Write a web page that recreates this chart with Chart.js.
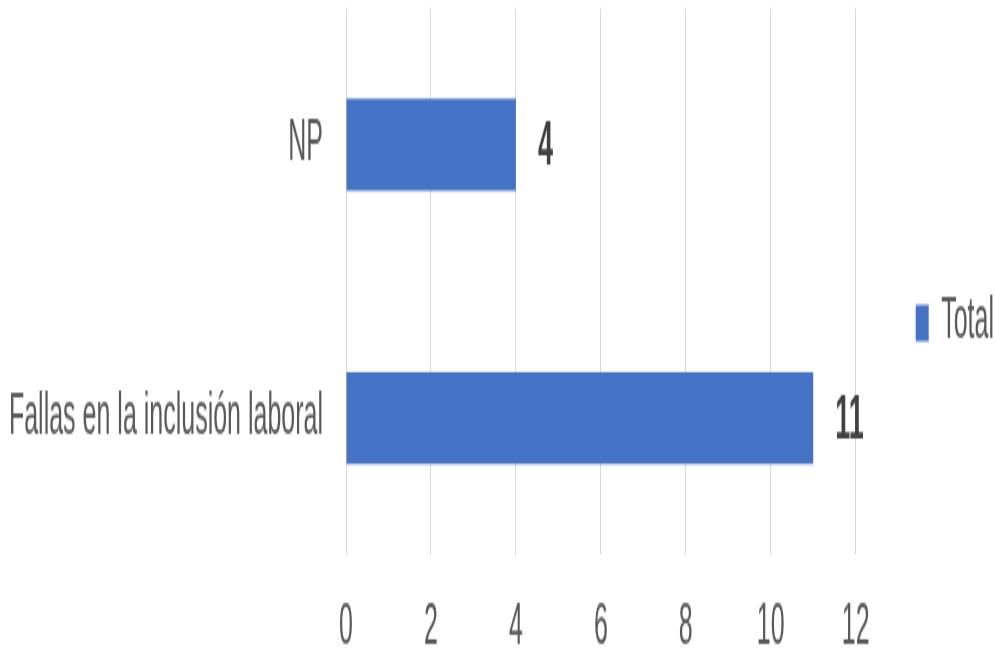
<!DOCTYPE html>
<html lang="es">
<head>
<meta charset="utf-8">
<title>Total por motivo</title>
<script src="https://cdn.jsdelivr.net/npm/chart.js@4.4.1/dist/chart.umd.min.js"></script>
<style>
    html, body { margin: 0; padding: 0; background: #ffffff; overflow: hidden; }
</style>
</head>
<body>
<!-- el lienzo se dibuja a 286px de alto y se estira a 653px, como la imagen original -->
<canvas id="chartMotivos" width="995" height="286" style="display:block;width:995px;height:653px;"></canvas>
<script>
// ===== Datos =====
const categorias = ['NP', 'Fallas en la inclusión laboral'];
const totales = [4, 11];
const serieNombre = 'Total';
const marcasX = [0, 2, 4, 6, 8, 10, 12];

const FUENTE = '"Liberation Sans", Arial, sans-serif';
const GRIS_TEXTO = '#595959';

// Etiquetas de valor al final de cada barra
const etiquetasValor = {
    id: 'etiquetasValor',
    afterDatasetsDraw(chart) {
        const ctx = chart.ctx;
        ctx.save();
        ctx.font = `bold 27px ${FUENTE}`;
        ctx.fillStyle = '#404040';
        ctx.textAlign = 'left';
        ctx.textBaseline = 'middle';
        chart.getDatasetMeta(0).data.forEach((bar, i) => {
            ctx.fillText(String(totales[i]), bar.x + 22, bar.y + 1.5);
        });
        ctx.restore();
    }
};

const ctx = document.getElementById('chartMotivos').getContext('2d');

new Chart(ctx, {
    type: 'bar',
    data: {
        labels: categorias,
        datasets: [{
            label: serieNombre,
            data: totales,
            backgroundColor: '#4472C4',
            borderWidth: 0,
            categoryPercentage: 1,
            barPercentage: 0.336
        }]
    },
    options: {
        indexAxis: 'y',
        responsive: false,
        animation: false,
        // top negativo: sube el centro de la leyenda; el eje y deja el area en 3.5
        layout: { padding: { top: -3, right: -9, bottom: 0, left: 0 } },
        plugins: {
            tooltip: { enabled: false },
            legend: {
                position: 'right',
                labels: {
                    color: GRIS_TEXTO,
                    font: { family: FUENTE, size: 25 },
                    boxWidth: 13,
                    boxHeight: 16,
                    padding: 60
                }
            }
        },
        scales: {
            x: {
                min: 0,
                max: 12,
                afterBuildTicks: s => { s.ticks = marcasX.map(v => ({ value: v })); },
                afterFit: s => { s.height = 42.9; },
                border: { display: false },
                grid: { color: '#d9d9d9', drawTicks: false },
                ticks: {
                    color: GRIS_TEXTO,
                    padding: 20.5,
                    font: { family: FUENTE, size: 25, lineHeight: 0.9 }
                }
            },
            y: {
                afterFit: s => { s.width = 346; },
                border: { display: false },
                grid: {
                    color: 'rgba(0,0,0,0)',
                    drawOnChartArea: false,
                    drawTicks: true,
                    tickLength: 23
                },
                ticks: {
                    color: GRIS_TEXTO,
                    padding: 0,
                    font: { family: FUENTE, size: 25, lineHeight: 0.28 }
                }
            }
        }
    },
    plugins: [etiquetasValor]
});
</script>
</body>
</html>
